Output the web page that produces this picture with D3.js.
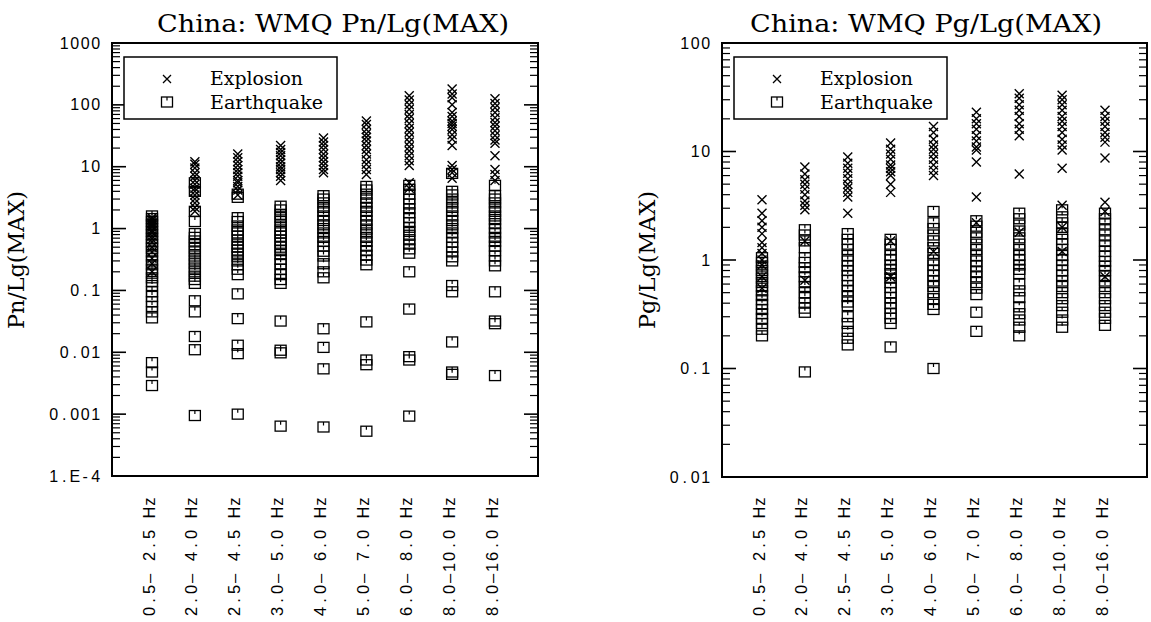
<!DOCTYPE html>
<html><head><meta charset="utf-8">
<script src="https://cdn.jsdelivr.net/npm/d3@7"></script>
<style>body{margin:0;background:#fff}svg{display:block}</style>
</head><body>
<svg id="chart" width="1151" height="622"></svg>
<script>
// ---------------- DATA ----------------
const bands = ["0.5– 2.5 Hz","2.0– 4.0 Hz","2.5– 4.5 Hz","3.0– 5.0 Hz","4.0– 6.0 Hz","5.0– 7.0 Hz","6.0– 8.0 Hz","8.0–10.0 Hz","8.0–16.0 Hz"];

const pnTickValues = [1000,100,10,1,0.1,0.01,0.001,1e-4];
const pnTickLabels = ["1000","100","10","1","0.1","0.01","0.001","1.E-4"];
const pgTickValues = [100,10,1,0.1,0.01];
const pgTickLabels = ["100","10","1","0.1","0.01"];

// Pn/Lg(MAX) explosions per band
const pnExp = [
  [1.5,1.4,1.35,1.25,1.2,1.1,1.05,0.95,0.9,0.85,0.75,0.68,0.6,0.5,0.42,0.33,0.27,0.2],
  [12,11,9.5,8,7,6,5.2,4.5,4,3.5,3,2.6,2.2,1.9],
  [16,14,12,10.5,9,8,7,6,5.5,4.8,4.2,3.5],
  [22,19,17,15,13,11.5,10,9,8,7,6],
  [29,25,22,19,16,14,12,10.5,9,8],
  [55,48,40,34,30,26,22,19,16,13,11,9,7.5],
  [140,120,100,85,70,60,50,42,36,30,25,21,18,15,12.5,10.5,5.5,4.5],
  [180,150,130,100,75,65,55,50,45,40,33,28,22,10.5,9,8,6.5],
  [125,105,90,75,62,52,45,38,32,27,24,15,9,7.5,6]
];
// Pn/Lg(MAX) earthquakes per band
const pnEq = [
  [1.6,1.45,1.3,1.15,1.0,0.9,0.8,0.7,0.62,0.55,0.48,0.42,0.36,0.3,0.26,0.22,0.19,0.16,0.14,0.12,0.095,0.08,0.066,0.055,0.045,0.036,0.0068,0.0048,0.0029],
  [5.5,4.0,1.9,1.3,0.83,0.72,0.63,0.55,0.48,0.42,0.36,0.31,0.27,0.23,0.2,0.17,0.15,0.13,0.068,0.045,0.018,0.011,0.00095],
  [3.6,3.2,1.5,1.3,1.1,0.95,0.85,0.75,0.65,0.56,0.5,0.45,0.4,0.35,0.3,0.26,0.22,0.18,0.088,0.035,0.013,0.0095,0.001],
  [2.3,2.0,1.7,1.5,1.3,1.1,0.95,0.85,0.75,0.65,0.58,0.5,0.44,0.38,0.32,0.27,0.22,0.18,0.15,0.13,0.032,0.0108,0.0098,0.00064],
  [3.4,3.0,2.6,2.2,1.9,1.6,1.35,1.15,1.0,0.85,0.72,0.62,0.52,0.43,0.36,0.27,0.2,0.16,0.024,0.012,0.0054,0.00062],
  [4.8,4.2,3.6,3.1,2.6,2.2,1.9,1.6,1.35,1.15,0.98,0.85,0.72,0.62,0.52,0.44,0.37,0.31,0.26,0.031,0.0075,0.0063,0.00053],
  [5.0,4.3,3.6,3.0,2.5,2.1,1.8,1.5,1.25,1.05,0.9,0.78,0.66,0.56,0.47,0.4,0.2,0.05,0.0085,0.0075,0.00093],
  [7.8,4.0,3.5,3.0,2.6,2.2,1.9,1.6,1.35,1.15,1.0,0.85,0.72,0.6,0.5,0.42,0.35,0.3,0.12,0.095,0.0147,0.0048,0.0044],
  [5.0,3.4,3.0,2.6,2.2,1.9,1.6,1.4,1.2,1.0,0.85,0.72,0.62,0.52,0.44,0.36,0.3,0.25,0.095,0.032,0.029,0.0042]
];
// Pg/Lg(MAX) explosions per band
const pgExp = [
  [3.6,2.7,2.3,2.0,1.75,1.45,1.3,1.15,1.0,0.9,0.7,0.55],
  [7.2,6.2,5.5,5.0,4.5,4.0,3.5,3.2,2.9,1.5,0.65],
  [8.9,7.8,7,6.3,5.6,5,4.6,4.2,3.8,2.7],
  [12,10.5,9.5,8.5,7.5,7,6.5,6,5,4.2,1.5,0.7],
  [17,15,13,11.5,10.5,9.5,8.5,7.5,6.7,6,1.2],
  [23,20,18,16,14,12.5,11,10.3,8,3.8,2.2],
  [34,31,27,24,21,18,16,14,6.2,1.8],
  [33,30,27,24,21,19,17,15,13,11.5,10.3,7,3.2,2.0,1.2],
  [24,21,19,17,15,13.5,12.2,8.7,3.4,2.8,0.7]
];
// Pg/Lg(MAX) earthquakes per band
const pgEq = [
  [1.05,0.95,0.88,0.8,0.74,0.68,0.62,0.57,0.52,0.47,0.43,0.39,0.35,0.32,0.29,0.26,0.23,0.2],
  [1.9,1.7,1.5,1.3,1.05,0.95,0.85,0.78,0.7,0.63,0.57,0.5,0.45,0.4,0.36,0.33,0.093],
  [1.75,1.55,1.4,1.25,1.1,0.98,0.88,0.8,0.72,0.65,0.58,0.52,0.46,0.41,0.38,0.3,0.26,0.22,0.19,0.165],
  [1.55,1.4,1.25,1.1,1.0,0.9,0.82,0.75,0.68,0.62,0.56,0.5,0.45,0.4,0.36,0.32,0.29,0.26,0.158],
  [2.8,2.2,1.95,1.7,1.5,1.3,1.15,1.0,0.9,0.8,0.72,0.64,0.57,0.5,0.44,0.39,0.35,0.1],
  [2.3,2.05,1.8,1.6,1.4,1.25,1.1,0.98,0.88,0.78,0.7,0.62,0.55,0.48,0.33,0.22],
  [2.7,2.4,2.1,1.85,1.6,1.4,1.25,1.1,1.0,0.9,0.82,0.75,0.6,0.52,0.45,0.37,0.32,0.28,0.24,0.2],
  [2.9,2.5,2.2,2.0,1.75,1.55,1.4,1.25,1.1,1.0,0.9,0.8,0.72,0.64,0.57,0.5,0.44,0.38,0.33,0.28,0.24],
  [2.7,2.4,2.15,1.9,1.7,1.5,1.35,1.2,1.08,0.97,0.88,0.8,0.72,0.64,0.57,0.5,0.44,0.38,0.33,0.29,0.25]
];

// ---------------- DRAWING ----------------
const svg = d3.select("#chart");
const serif = "'DejaVu Serif','Liberation Serif',serif";
const sans = "'Liberation Sans',Arial,sans-serif";

// place each character of a string in a fixed-width cell (typewriter-like layout)
function cellText(sel, str, pitch, startX, align) {
  const chars = Array.from(str);
  const n = chars.length;
  sel.text(null).style("white-space", "pre");
  chars.forEach((c, k) => {
    const cx = align === "end"
      ? startX - pitch / 2 - (n - 1 - k) * pitch
      : startX + pitch / 2 + k * pitch;
    sel.append("tspan").attr("x", cx).attr("text-anchor", "middle").text(c);
  });
}

const panels = [
  {L:112, R:538, T:43, B:476, domain:[1e-4,1000], tv:pnTickValues, tl:pnTickLabels,
   title:"China: WMQ Pn/Lg(MAX)", titleX:333, ytitle:"Pn/Lg(MAX)", ytitleX:24, exp:pnExp, eq:pnEq},
  {L:722, R:1147, T:43, B:477, domain:[0.01,100], tv:pgTickValues, tl:pgTickLabels,
   title:"China: WMQ Pg/Lg(MAX)", titleX:926, ytitle:"Pg/Lg(MAX)", ytitleX:655, exp:pgExp, eq:pgEq}
];

panels.forEach(p => {
  const g = svg.append("g");
  const y = d3.scaleLog().domain(p.domain).range([p.B, p.T]);
  const x = d3.scaleLinear().domain([1, 9]).range([p.L + 40, p.L + 383]);

  // title
  g.append("text").attr("x", p.titleX).attr("y", 32).attr("text-anchor","middle")
    .attr("font-family", serif).attr("font-size", 25)
    .attr("textLength", 352).attr("lengthAdjust","spacingAndGlyphs")
    .text(p.title);

  // y title
  g.append("text").attr("transform", `translate(${p.ytitleX},260) rotate(-90)`)
    .attr("text-anchor","middle").attr("font-family", serif).attr("font-size", 22)
    .attr("textLength", 138).attr("lengthAdjust","spacingAndGlyphs")
    .text(p.ytitle);

  // minor/major ticks inside frame on both sides
  y.ticks().forEach(t => {
    const major = Math.abs(Math.log10(t) - Math.round(Math.log10(t))) < 1e-9;
    const len = major ? 14 : 8;
    const yy = y(t);
    g.append("line").attr("x1", p.L).attr("x2", p.L + len).attr("y1", yy).attr("y2", yy)
      .attr("stroke","#000").attr("stroke-width", major ? 1.6 : 1.2);
    g.append("line").attr("x1", p.R).attr("x2", p.R - len).attr("y1", yy).attr("y2", yy)
      .attr("stroke","#000").attr("stroke-width", major ? 1.6 : 1.2);
  });

  // y tick labels via d3 axis
  const axis = d3.axisLeft(y).tickValues(p.tv).tickSize(0).tickPadding(12)
    .tickFormat((d,i) => p.tl[i]);
  const ag = g.append("g").attr("transform", `translate(${p.L},0)`).call(axis);
  ag.select(".domain").remove();
  ag.selectAll("text").attr("font-family", sans).attr("font-size", 16).attr("fill","#000")
    .each(function(d, i) { cellText(d3.select(this), p.tl[i], 10.5, -11, "end"); });

  // frame
  g.append("rect").attr("x", p.L).attr("y", p.T).attr("width", p.R - p.L).attr("height", p.B - p.T)
    .attr("fill","none").attr("stroke","#000").attr("stroke-width", 2);

  // x labels (rotated, fixed-pitch characters)
  bands.forEach((b, i) => {
    const t = g.append("text").attr("transform", `translate(${x(i+1) + 2.5},617) rotate(-90)`)
      .attr("font-family", sans).attr("font-size", 16.5).attr("fill","#000");
    cellText(t, b, 11, 0, "start");
  });

  // earthquakes: open squares with a small tick
  const eqPts = [];
  p.eq.forEach((arr, i) => arr.forEach(v => eqPts.push({i, v})));
  const sq = g.append("g");
  eqPts.forEach(d => {
    const cx = x(d.i + 1), cy = y(d.v);
    sq.append("rect").attr("x", cx - 5.5).attr("y", cy - 5).attr("width", 11).attr("height", 10)
      .attr("fill","none").attr("stroke","#000").attr("stroke-width", 1.3);
    sq.append("line").attr("x1", cx).attr("x2", cx).attr("y1", cy - 5).attr("y2", cy - 1.5)
      .attr("stroke","#000").attr("stroke-width", 1.2);
  });

  // explosions: x marks
  const exPts = [];
  p.exp.forEach((arr, i) => arr.forEach(v => exPts.push({i, v})));
  const cr = g.append("g");
  exPts.forEach(d => {
    const cx = x(d.i + 1), cy = y(d.v), s = 4.5;
    cr.append("path").attr("d", `M${cx-s},${cy-s}L${cx+s},${cy+s}M${cx-s},${cy+s}L${cx+s},${cy-s}`)
      .attr("stroke","#000").attr("stroke-width", 1.4).attr("fill","none");
  });

  // legend
  const lx = p.L + 12, ly = p.T + 14;
  g.append("rect").attr("x", lx).attr("y", ly).attr("width", 213).attr("height", 62)
    .attr("fill","#fff").attr("stroke","#000").attr("stroke-width", 1.5);
  const mx = p.L + 55;
  g.append("path").attr("d", `M${mx-4},${ly+18}L${mx+4},${ly+26}M${mx-4},${ly+26}L${mx+4},${ly+18}`)
    .attr("stroke","#000").attr("stroke-width", 1.3);
  g.append("rect").attr("x", mx - 5.5).attr("y", ly + 40).attr("width", 11).attr("height", 10)
    .attr("fill","none").attr("stroke","#000").attr("stroke-width", 1.3);
  g.append("line").attr("x1", mx).attr("x2", mx).attr("y1", ly + 40).attr("y2", ly + 43.5)
    .attr("stroke","#000").attr("stroke-width", 1.2);
  g.append("text").attr("x", p.L + 98).attr("y", ly + 28).attr("font-family", serif)
    .attr("font-size", 18).attr("textLength", 93).attr("lengthAdjust","spacingAndGlyphs").text("Explosion");
  g.append("text").attr("x", p.L + 98).attr("y", ly + 52).attr("font-family", serif)
    .attr("font-size", 18).attr("textLength", 113).attr("lengthAdjust","spacingAndGlyphs").text("Earthquake");
});
</script>
</body></html>
